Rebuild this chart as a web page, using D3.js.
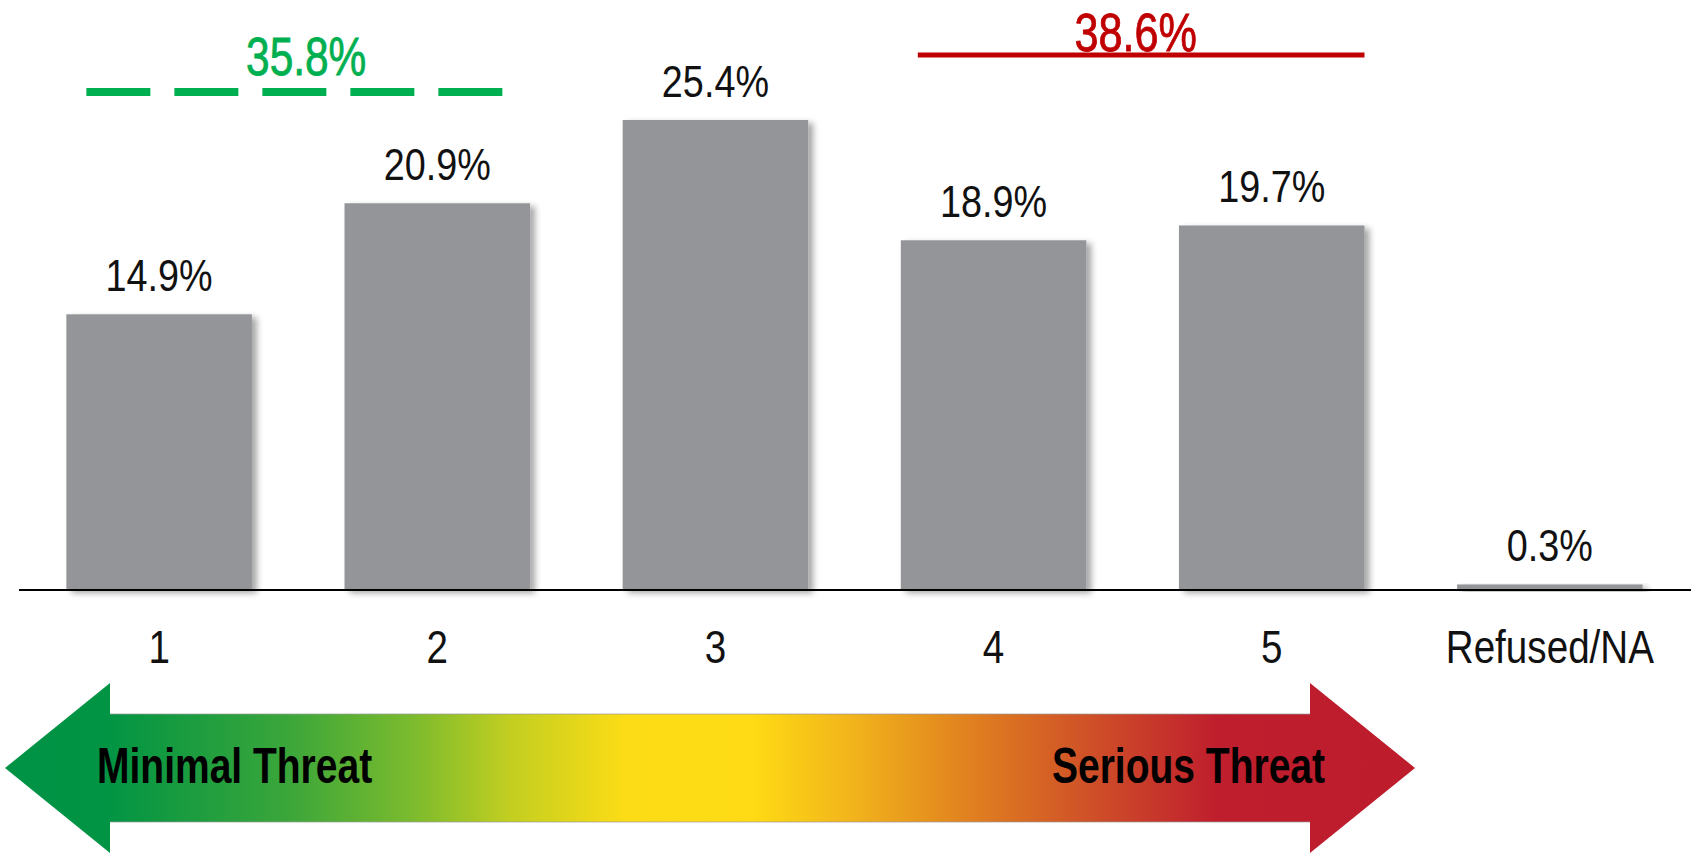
<!DOCTYPE html>
<html>
<head>
<meta charset="utf-8">
<script src="https://cdn.jsdelivr.net/npm/d3@7"></script>
<style>
  body { margin: 0; background: #fff; }
  svg text { font-family: 'Liberation Sans', Arial, sans-serif; }
</style>
</head>
<body>
<div id="chart"></div>
<script>
// data
const categories = ["1", "2", "3", "4", "5", "Refused/NA"];
const values = [14.9, 20.9, 25.4, 18.9, 19.7, 0.3];
const groupLabels = ["35.8%", "38.6%"];
const groupFrom = ["1", "4"];
const groupTo = ["2", "5"];
const scaleEnds = ["Minimal Threat", "Serious Threat"];

const width = 1694, height = 853;
const baseY = 590;
const narrow = 0.84; // no narrow font installed, squeeze the regular one

const svg = d3.select("#chart").append("svg")
  .attr("width", width)
  .attr("height", height);

const defs = svg.append("defs");

// soft shadow on the bars
defs.append("filter").attr("id", "shadow")
  .attr("x", "-10%").attr("y", "-10%").attr("width", "130%").attr("height", "130%")
  .append("feDropShadow")
  .attr("dx", 5).attr("dy", 3).attr("stdDeviation", 3)
  .attr("flood-color", "#000").attr("flood-opacity", 0.35);

// green -> yellow -> red gradient for the arrow
const grad = defs.append("linearGradient").attr("id", "threat")
  .attr("gradientUnits", "userSpaceOnUse")
  .attr("x1", 5).attr("x2", 1415).attr("y1", 0).attr("y2", 0);
[[0, "#009245"], [0.07, "#009444"], [0.2, "#3aa63a"], [0.29, "#7cbb2d"], [0.36, "#c4cf20"],
 [0.44, "#fcdc16"], [0.53, "#fedb14"], [0.6, "#f2b41b"], [0.69, "#df7d20"],
 [0.77, "#cf5028"], [0.86, "#bf1e2d"], [1, "#bc1c2c"]]
  .forEach(s => grad.append("stop").attr("offset", s[0]).attr("stop-color", s[1]));

const x = d3.scaleBand()
  .domain(categories)
  .range([20, 1689])
  .paddingInner(0.333)
  .paddingOuter(0.1667);

const y = d3.scaleLinear()
  .domain([0, 25.4])
  .range([baseY, 120]);

const data = categories.map((c, i) => ({cat: c, val: values[i]}));

// put text at (px,py) squeezed horizontally
function place(sel, px, py, sx) {
  return sel.attr("transform", (d, i) => {
    const xx = typeof px === "function" ? px(d, i) : px;
    const yy = typeof py === "function" ? py(d, i) : py;
    return `translate(${xx},${yy}) scale(${sx},1)`;
  });
}

// bars
svg.append("g").selectAll("rect")
  .data(data)
  .enter()
  .append("rect")
  .attr("x", d => x(d.cat))
  .attr("y", d => y(d.val))
  .attr("width", x.bandwidth())
  .attr("height", d => baseY - y(d.val))
  .attr("fill", "#939598")
  .attr("filter", "url(#shadow)");

// value labels
place(svg.append("g").selectAll("text")
  .data(data)
  .enter()
  .append("text"), d => x(d.cat) + x.bandwidth() / 2, d => y(d.val) - 23, narrow)
  .attr("text-anchor", "middle")
  .attr("font-size", 45)
  .attr("fill", "#111")
  .text(d => d.val.toFixed(1) + "%");

// x axis: just the baseline and labels
svg.append("line")
  .attr("x1", 19).attr("x2", 1691)
  .attr("y1", baseY).attr("y2", baseY)
  .attr("stroke", "#000").attr("stroke-width", 2);

place(svg.append("g").selectAll("text")
  .data(categories)
  .enter()
  .append("text"), d => x(d) + x.bandwidth() / 2, 663, narrow)
  .attr("text-anchor", "middle")
  .attr("font-size", 46)
  .attr("fill", "#111")
  .text(d => d);

// group totals above the bars
const groupColors = ["#00b050", "#c00000"];
const groups = groupLabels.map((g, i) => ({label: g, from: groupFrom[i], to: groupTo[i], color: groupColors[i]}));

const centre = c => x(c) + x.bandwidth() / 2;

// green dashed (low threat)
svg.append("line")
  .attr("x1", x(groups[0].from) + 20)
  .attr("x2", x(groups[0].to) + x.bandwidth() - 27)
  .attr("y1", 92).attr("y2", 92)
  .attr("stroke", groups[0].color).attr("stroke-width", 8)
  .attr("stroke-dasharray", "64,24");
place(svg.append("text"), (centre(groups[0].from) + centre(groups[0].to)) / 2 + 8, 75, 0.8)
  .attr("text-anchor", "middle")
  .attr("font-size", 53)
  .attr("fill", groups[0].color)
  .attr("stroke", groups[0].color).attr("stroke-width", 0.8)
  .text(groups[0].label);

// red solid (high threat)
svg.append("line")
  .attr("x1", x(groups[1].from) + 17)
  .attr("x2", x(groups[1].to) + x.bandwidth())
  .attr("y1", 55).attr("y2", 55)
  .attr("stroke", groups[1].color).attr("stroke-width", 5);
place(svg.append("text"), (centre(groups[1].from) + centre(groups[1].to)) / 2 + 3, 51, 0.8)
  .attr("text-anchor", "middle")
  .attr("font-size", 54)
  .attr("fill", groups[1].color)
  .attr("stroke", groups[1].color).attr("stroke-width", 0.8)
  .text(groups[1].label);

// double arrow scale at the bottom
const ay = 768, shaft = 54, head = 85, headLen = 105, left = 5, right = 1415;
const arrowPts = [
  [left, ay],
  [left + headLen, ay - head],
  [left + headLen, ay - shaft],
  [right - headLen, ay - shaft],
  [right - headLen, ay - head],
  [right, ay],
  [right - headLen, ay + head],
  [right - headLen, ay + shaft],
  [left + headLen, ay + shaft],
  [left + headLen, ay + head]
];
svg.append("path")
  .attr("d", d3.line()(arrowPts) + "Z")
  .attr("fill", "url(#threat)");

// thin grey edge along the shaft
[ay - shaft, ay + shaft].forEach(yy => {
  svg.append("line")
    .attr("x1", left + headLen).attr("x2", right - headLen)
    .attr("y1", yy).attr("y2", yy)
    .attr("stroke", "#999").attr("stroke-width", 1).attr("opacity", 0.7);
});

place(svg.append("text"), 97, 783, 0.78)
  .attr("font-size", 50).attr("font-weight", "bold")
  .attr("fill", "#000")
  .text(scaleEnds[0]);
place(svg.append("text"), 1325, 783, 0.78)
  .attr("text-anchor", "end")
  .attr("font-size", 50).attr("font-weight", "bold")
  .attr("fill", "#000")
  .text(scaleEnds[1]);
</script>
</body>
</html>
